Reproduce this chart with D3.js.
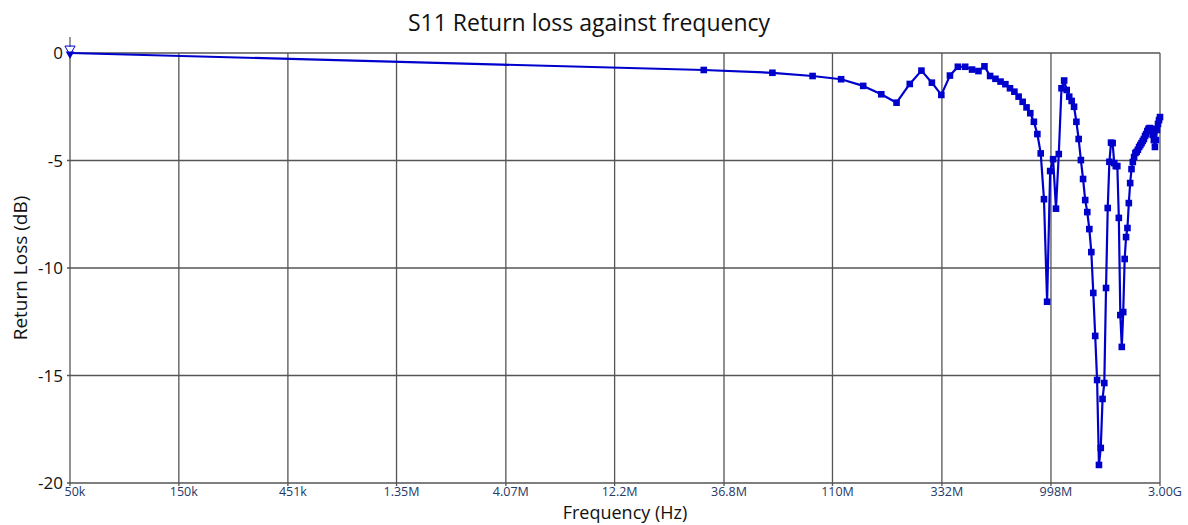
<!DOCTYPE html>
<html>
<head>
<meta charset="utf-8">
<title>S11 Return loss</title>
<script src="https://d3js.org/d3.v7.min.js"></script>
<style>
body { margin: 0; background: #fff; font-family: 'Open Sans', sans-serif; }
</style>
</head>
<body>
<script>
// Data: linear sweep 50k .. 3GHz, 101 points
var freqMHz = [0.05, 30, 60, 90, 120, 150, 180, 210, 240, 270,
  300, 330, 360, 390, 420, 450, 480, 510, 540, 570,
  600, 630, 660, 690, 720, 750, 780, 810, 840, 870,
  900, 930, 960, 990, 1020, 1050, 1080, 1110, 1140, 1170,
  1200, 1230, 1260, 1290, 1320, 1350, 1380, 1410, 1440, 1470,
  1500, 1530, 1560, 1590, 1620, 1650, 1680, 1710, 1740, 1770,
  1800, 1830, 1860, 1890, 1920, 1950, 1980, 2010, 2040, 2070,
  2100, 2130, 2160, 2190, 2220, 2250, 2280, 2310, 2340, 2370,
  2400, 2430, 2460, 2490, 2520, 2550, 2580, 2610, 2640, 2670,
  2700, 2730, 2760, 2790, 2820, 2850, 2880, 2910, 2940, 2970, 3000];
var returnLossDb = [0, -0.79, -0.92, -1.07, -1.22, -1.53, -1.92, -2.31, -1.44, -0.82,
  -1.38, -1.95, -1.05, -0.64, -0.64, -0.77, -0.84, -0.62, -1.07, -1.20,
  -1.33, -1.45, -1.64, -1.80, -2.03, -2.27, -2.53, -2.80, -3.20, -3.77,
  -4.67, -6.80, -11.57, -5.49, -4.94, -7.24, -4.70, -1.64, -1.28, -1.72,
  -2.03, -2.23, -2.50, -3.20, -4.00, -4.98, -5.86, -6.84, -7.40, -8.19,
  -9.26, -11.16, -13.16, -15.21, -19.16, -18.37, -16.09, -15.35, -10.93, -7.21,
  -5.06, -4.17, -4.19, -5.12, -5.26, -5.26, -7.67, -12.19, -13.67, -12.05,
  -9.58, -8.56, -8.14, -6.98, -6.05, -5.40, -5.07, -4.84, -4.65, -4.60,
  -4.50, -4.37, -4.28, -4.19, -4.09, -4.00, -3.86, -3.77, -3.63, -3.53,
  -3.49, -3.53, -3.53, -3.81, -4.05, -4.37, -4.05, -3.58, -3.30, -3.12, -2.98];
var xTickHz = [5e4, 1.5e5, 4.51e5, 1.35e6, 4.07e6, 1.22e7, 3.68e7, 1.10e8, 3.32e8, 9.98e8, 3.00e9];
var xTickLabels = ["50k", "150k", "451k", "1.35M", "4.07M", "12.2M", "36.8M", "110M", "332M", "998M", "3.00G"];
var yTicks = [0, -5, -10, -15, -20];

var W = 1188, H = 525;
var mLeft = 70, mRight = 1160, mTop = 53, mBottom = 483;
var lineColor = "#0000cc";
var gridColor = "#555";

var svg = d3.select("body").append("svg").attr("width", W).attr("height", H);

var x = d3.scaleLog().domain([5e4, 3e9]).range([mLeft, mRight]);
var y = d3.scaleLinear().domain([-20, 0]).range([mBottom, mTop]);

var data = freqMHz.map(function(f, i){ return {f: f * 1e6, db: returnLossDb[i]}; });

// grid
var grid = svg.append("g");
grid.selectAll("line.v").data(xTickHz).enter().append("line")
  .attr("x1", function(d){ return x(d); }).attr("x2", function(d){ return x(d); })
  .attr("y1", mTop).attr("y2", mBottom + 3)
  .attr("stroke", gridColor).attr("stroke-width", 1.3);
grid.selectAll("line.h").data(yTicks).enter().append("line")
  .attr("x1", mLeft - 3).attr("x2", mRight)
  .attr("y1", function(d){ return y(d); }).attr("y2", function(d){ return y(d); })
  .attr("stroke", gridColor).attr("stroke-width", 1.3);

// x tick labels
svg.append("g").selectAll("text").data(xTickHz).enter().append("text")
  .attr("x", function(d){ return x(d) + 5; })
  .attr("y", mBottom + 13)
  .attr("text-anchor", "middle")
  .attr("font-size", "12.5px")
  .attr("fill", "#243866")
  .text(function(d, i){ return xTickLabels[i]; });

// y tick labels
svg.append("g").selectAll("text").data(yTicks).enter().append("text")
  .attr("x", mLeft - 7)
  .attr("y", function(d){ return y(d); })
  .attr("dy", "0.36em")
  .attr("text-anchor", "end")
  .attr("font-size", "17px")
  .attr("fill", "#111")
  .text(function(d){ return d; });

// series line
var line = d3.line().x(function(d){ return x(d.f); }).y(function(d){ return y(d.db); });
svg.append("path").datum(data)
  .attr("d", line)
  .attr("fill", "none")
  .attr("stroke", lineColor)
  .attr("stroke-width", 2.2)
  .attr("stroke-linejoin", "round");

// square markers (not on the start point)
svg.append("g").selectAll("rect").data(data.slice(1)).enter().append("rect")
  .attr("x", function(d){ return x(d.f) - 3.3; })
  .attr("y", function(d){ return y(d.db) - 3.3; })
  .attr("width", 6.6).attr("height", 6.6)
  .attr("fill", lineColor);

// start marker: little pin with triangles
var p0 = data[0];
svg.append("line").attr("x1", x(p0.f)).attr("x2", x(p0.f))
  .attr("y1", y(p0.db) - 16).attr("y2", y(p0.db) - 6)
  .attr("stroke", "#333").attr("stroke-width", 1);
svg.append("path")
  .attr("d", d3.symbol().type(d3.symbolTriangle).size(45)())
  .attr("transform", "translate(" + x(p0.f) + "," + (y(p0.db) - 4) + ") rotate(180)")
  .attr("fill", "none").attr("stroke", lineColor).attr("stroke-width", 1);
svg.append("path")
  .attr("d", d3.symbol().type(d3.symbolTriangle).size(32)())
  .attr("transform", "translate(" + x(p0.f) + "," + (y(p0.db) + 1) + ") rotate(180)")
  .attr("fill", lineColor);

// titles
svg.append("text").attr("x", 589).attr("y", 31)
  .attr("text-anchor", "middle").attr("font-size", "23px").attr("fill", "#111")
  .text("S11 Return loss against frequency");
svg.append("text").attr("x", 625).attr("y", 519)
  .attr("text-anchor", "middle").attr("font-size", "18px").attr("fill", "#111")
  .text("Frequency (Hz)");
svg.append("text")
  .attr("transform", "translate(27," + ((mTop + mBottom) / 2) + ") rotate(-90)")
  .attr("text-anchor", "middle").attr("font-size", "19px").attr("fill", "#111")
  .text("Return Loss (dB)");
</script>
</body>
</html>
